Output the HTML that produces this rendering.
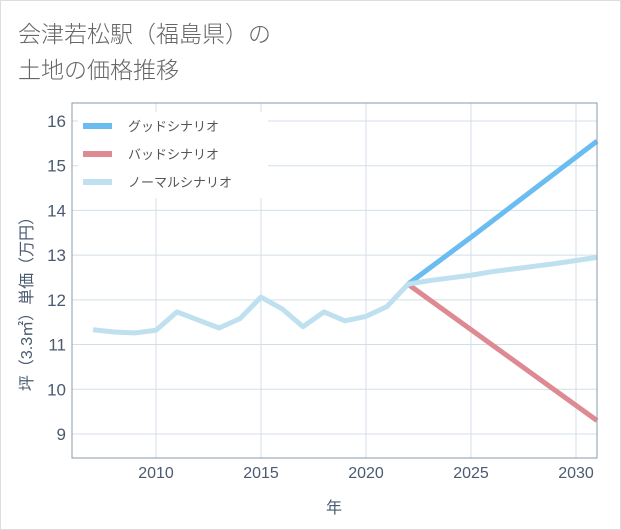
<!DOCTYPE html>
<html><head><meta charset="utf-8"><style>
body{margin:0;background:#fff;font-family:"Liberation Sans","Noto Sans CJK JP",sans-serif}
#wrap{position:relative;width:619px;height:528px;border:1px solid #ddd;background:#fff}
</style></head><body>
<div id="wrap">
<svg id="svg" width="621" height="530" style="position:absolute;left:-1px;top:-1px">
<text x="18" y="42" font-size="23" fill="#666" font-weight="300">会津若松駅（福島県）の</text>
<text x="18" y="78" font-size="23" fill="#666" font-weight="300">土地の価格推移</text>
<g id="grid"></g><g id="lines"></g><g id="axes"></g>
<rect x="78" y="112" width="190" height="86" fill="#fff"/>
<g>
<line x1="83" y1="126" x2="112" y2="126" stroke="#6bbcf0" stroke-width="6"/>
<text x="128" y="131" font-size="13" fill="#555">グッドシナリオ</text>
<line x1="83" y1="154" x2="112" y2="154" stroke="#de8a92" stroke-width="6"/>
<text x="128" y="159" font-size="13" fill="#555">バッドシナリオ</text>
<line x1="83" y1="182" x2="112" y2="182" stroke="#bfe0ee" stroke-width="6"/>
<text x="128" y="187" font-size="13" fill="#555">ノーマルシナリオ</text>
</g>
</svg></div>
<script>
const normalYears=[2007,2008,2009,2010,2011,2012,2013,2014,2015,2016,2017,2018,2019,2020,2021,2022,2023,2024,2025,2026,2027,2028,2029,2030,2031];
const normalVals=[11.33,11.28,11.26,11.32,11.73,11.55,11.37,11.58,12.06,11.8,11.4,11.73,11.53,11.63,11.85,12.35,12.43,12.49,12.55,12.63,12.69,12.75,12.81,12.88,12.95];
const goodYears=[2022,2025,2031];
const goodVals=[12.35,13.4,15.55];
const badYears=[2022,2031];
const badVals=[12.35,9.3];
const xTicks=[2010,2015,2020,2025,2030];
const yTicks=[9,10,11,12,13,14,15,16];
const L=72,R=597,T=103,B=458;
const X=y=>156+(y-2010)*21;
const Y=v=>121+(16-v)*44.71;
const ns="http://www.w3.org/2000/svg";
function mk(p,tag,at){const e=document.createElementNS(ns,tag);for(const k in at)e.setAttribute(k,at[k]);document.getElementById(p).appendChild(e);return e;}
for(const t of xTicks){const e=mk('grid','line',{x1:X(t),x2:X(t),y1:T,y2:B,stroke:'#d3dfe8'});


const tx=mk('axes','text',{x:X(t),y:478,'font-size':16,fill:'#4a5a70','text-anchor':'middle'});tx.textContent=t;

}
for(const t of yTicks){const e=mk('grid','line',{x1:L,x2:R,y1:Y(t),y2:Y(t),stroke:'#d3dfe8'});


const tx=mk('axes','text',{x:66,y:Y(t)+6,'font-size':17,fill:'#4a5a70','text-anchor':'end'});tx.textContent=t;

}
const fr=mk('axes','rect',{x:L,y:T,width:R-L,height:B-T,fill:'none',stroke:'#8a9aaa'});


const xt=mk('axes','text',{x:334,y:513,'font-size':16,fill:'#4a5a70','text-anchor':'middle'});xt.textContent='年';


const yt=mk('axes','text',{x:0,y:0,'font-size':16,fill:'#4a5a70','text-anchor':'middle',transform:'translate(32,300) rotate(-90)'});yt.textContent='坪（3.3㎡）単価（万円）';


function line(xs,vs,col,name){const p=mk('lines','polyline',{points:xs.map((x,i)=>X(x)+','+Y(vs[i])).join(' '),fill:'none',stroke:col,'stroke-width':5,'stroke-linejoin':'round'});

}
line(badYears,badVals,'#de8a92','bad-scenario-line');
line(goodYears,goodVals,'#6bbcf0','good-scenario-line');
line(normalYears,normalVals,'#bfe0ee','normal-scenario-line');
document.querySelectorAll('#svg text').forEach(t=>t.setAttribute('font-family','Liberation Sans, Noto Sans CJK JP, sans-serif'));
</script>
</body></html>
